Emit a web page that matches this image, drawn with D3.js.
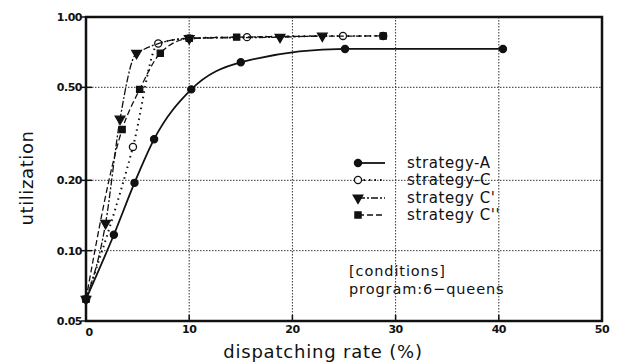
<!DOCTYPE html>
<html>
<head>
<meta charset="utf-8">
<script src="https://cdn.jsdelivr.net/npm/d3@7"></script>
<style>
  body { margin: 0; background: #fff; }
  text { font-family: "DejaVu Sans", sans-serif; fill: #111; }
</style>
</head>
<body>
<div id="vis"></div>
<script>
// x ticks / y ticks
var xTicks = [0, 10, 20, 30, 40, 50];
var yTicks = [0.05, 0.10, 0.20, 0.50, 1.00];
var yGrid = [0.10, 0.20, 0.50];

// strategy-A (filled circles, solid)
var aX = [0, 2.7, 4.7, 6.6, 10.2, 15.0, 25.1, 40.4];
var aY = [0.062, 0.117, 0.195, 0.30, 0.49, 0.64, 0.73, 0.73];
// strategy-C (open circles, dotted)
var cX = [0, 4.55, 7.0, 10.0, 15.6, 24.9, 28.8];
var cY = [0.062, 0.278, 0.77, 0.81, 0.82, 0.83, 0.83];
// strategy-C' (triangles, dash-dot)
var c1X = [0, 1.9, 3.3, 4.9, 10.0, 18.8, 22.9];
var c1Y = [0.062, 0.131, 0.366, 0.70, 0.81, 0.82, 0.83];
// strategy-C'' (squares, dashed)
var c2X = [0, 3.5, 5.2, 7.2, 10.0, 14.6, 28.8];
var c2Y = [0.062, 0.33, 0.49, 0.70, 0.81, 0.82, 0.83];

var seriesNames = ["strategy-A", "strategy-C", "strategy C'", "strategy C''"];

function draw() {
  var width = 619, height = 362;
  var m = {left: 86, right: 17, top: 17, bottom: 41};

  var svg = d3.select("#vis").append("svg")
    .attr("width", width)
    .attr("height", height);

  var x = d3.scaleLinear().domain([0, 50]).range([m.left, width - m.right]);
  var y = d3.scaleLog().domain([0.05, 1]).range([height - m.bottom, m.top]);

  // dotted grid
  svg.selectAll(".vgrid").data([10, 20, 30, 40]).enter().append("line")
    .attr("x1", d => x(d)).attr("x2", d => x(d))
    .attr("y1", y(1)).attr("y2", y(0.05))
    .attr("stroke", "#333").attr("stroke-width", 1)
    .attr("stroke-dasharray", "1.5,1.5");
  svg.selectAll(".hgrid").data(yGrid).enter().append("line")
    .attr("x1", x(0)).attr("x2", x(50))
    .attr("y1", d => y(d)).attr("y2", d => y(d))
    .attr("stroke", "#333").attr("stroke-width", 1)
    .attr("stroke-dasharray", "1.5,1.5");

  // frame
  svg.append("rect")
    .attr("x", x(0)).attr("y", y(1))
    .attr("width", x(50) - x(0)).attr("height", y(0.05) - y(1))
    .attr("fill", "none").attr("stroke", "#111").attr("stroke-width", 2.5);

  // ticks
  svg.selectAll(".xt").data(xTicks).enter().append("line")
    .attr("x1", d => x(d)).attr("x2", d => x(d))
    .attr("y1", y(0.05)).attr("y2", y(0.05) - 6)
    .attr("stroke", "#111").attr("stroke-width", 1.5);
  svg.selectAll(".yt").data(yTicks).enter().append("line")
    .attr("x1", x(0) - 5).attr("x2", x(0) + 6)
    .attr("y1", d => y(d)).attr("y2", d => y(d))
    .attr("stroke", "#111").attr("stroke-width", 1.5);

  svg.selectAll(".xl").data(xTicks).enter().append("text")
    .attr("x", d => x(d) + (d === 0 ? 3 : 0))
    .attr("y", d => d === 0 ? 336 : 333)
    .attr("text-anchor", "middle")
    .attr("font-size", 11).attr("font-weight", "bold")
    .attr("letter-spacing", -0.5)
    .text(d => d);
  svg.selectAll(".yl").data(yTicks).enter().append("text")
    .attr("x", x(0) - 4)
    .attr("y", d => y(d) + 4)
    .attr("text-anchor", "end")
    .attr("font-size", 11).attr("font-weight", "bold")
    .attr("letter-spacing", -0.5)
    .text(d => d.toFixed(2));

  // axis titles
  svg.append("text")
    .attr("x", 323).attr("y", 358)
    .attr("text-anchor", "middle").attr("font-size", 18)
    .attr("letter-spacing", 0.8)
    .text("dispatching rate (%)");
  svg.append("text")
    .attr("transform", "translate(33,178) rotate(-90)")
    .attr("text-anchor", "middle").attr("font-size", 18)
    .attr("letter-spacing", 0.6)
    .text("utilization");

  var series = [
    {xs: aX, ys: aY, dash: null, sw: 1.8, marker: "circle", fill: "#111"},
    {xs: cX, ys: cY, dash: "1.5,4", sw: 2, marker: "circle", fill: "#fff"},
    {xs: c1X, ys: c1Y, dash: "7,2,2,2", sw: 1.3, marker: "triangle", fill: "#111"},
    {xs: c2X, ys: c2Y, dash: "6,3", sw: 1.3, marker: "square", fill: "#111"}
  ];

  var symbols = {
    circle: d3.symbol().type(d3.symbolCircle).size(40),
    triangle: d3.symbol().type(d3.symbolTriangle).size(40),
    square: d3.symbol().type(d3.symbolSquare).size(38)
  };

  var line = d3.line().curve(d3.curveMonotoneX);

  series.forEach(function(s, i) {
    var pts = s.xs.map((v, j) => [x(v), y(s.ys[j])]);
    svg.append("path")
      .attr("d", line(pts))
      .attr("fill", "none").attr("stroke", "#111")
      .attr("stroke-width", s.sw)
      .attr("stroke-dasharray", s.dash);
    svg.selectAll(".m" + i).data(pts).enter().append("path")
      .attr("d", symbols[s.marker])
      .attr("transform", d => "translate(" + d[0] + "," + d[1] + ")" + (s.marker === "triangle" ? " rotate(180)" : ""))
      .attr("fill", s.fill).attr("stroke", "#111").attr("stroke-width", 1.3);
  });

  // legend
  var legY = [163, 180, 198, 215];
  series.forEach(function(s, i) {
    svg.append("line")
      .attr("x1", 358).attr("x2", 385)
      .attr("y1", legY[i]).attr("y2", legY[i])
      .attr("stroke", "#111").attr("stroke-width", s.sw)
      .attr("stroke-dasharray", s.dash);
    svg.append("path")
      .attr("d", symbols[s.marker])
      .attr("transform", "translate(358," + legY[i] + ")" + (s.marker === "triangle" ? " rotate(180)" : ""))
      .attr("fill", s.fill).attr("stroke", "#111").attr("stroke-width", 1.3);
    svg.append("text")
      .attr("x", 407).attr("y", legY[i] + 5)
      .attr("font-size", 15).attr("letter-spacing", 0.6)
      .text(seriesNames[i]);
  });

  svg.append("text").attr("x", 349).attr("y", 276).attr("font-size", 14.5)
    .attr("letter-spacing", 0.9)
    .text("[conditions]");
  svg.append("text").attr("x", 349).attr("y", 294).attr("font-size", 14.5)
    .attr("letter-spacing", 0.9)
    .text("program:6\u2212queens");
}

draw();
</script>
</body>
</html>
